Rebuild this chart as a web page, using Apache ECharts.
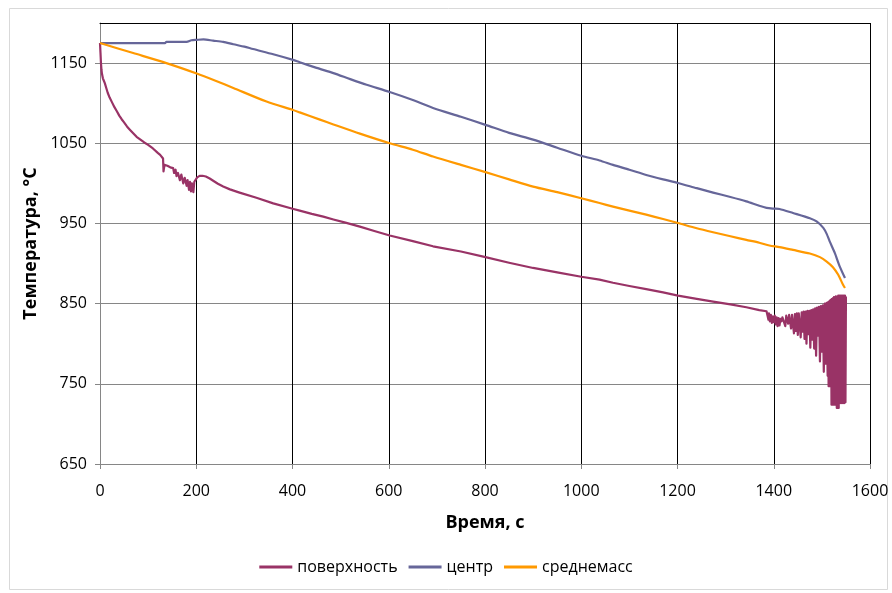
<!DOCTYPE html>
<html>
<head>
<meta charset="utf-8">
<script src="https://cdn.jsdelivr.net/npm/echarts@6/dist/echarts.min.js"></script>
<style>
  html, body { margin: 0; padding: 0; background: #fff; }
  #chart { width: 892px; height: 593px; }
</style>
</head>
<body>
<div id="chart"></div>
<script>
// Cooling curves of a slab: surface, centre and mass-average temperature, [time s, temperature °C]
const seriesNames = ['поверхность', 'центр', 'среднемасс'];

const surfaceTemp = [
  [0,1175],[1,1163],[2,1150],[3,1142],[4,1137],[6,1131],[8,1128],[10,1125],[13,1119],[16,1113],
  [20,1107],[25,1101],[30,1095],[35,1090],[40,1084.5],[45,1080],[50,1076],[56,1071],[62,1067],[69,1062.5],
  [76,1058],[84,1054.5],[92,1051],[100,1048],[110,1043.5],[120,1038],[125,1035.5],[131,1031],[132,1015],[134,1023],
  [140,1022],[146,1020],[152,1019],[154,1013],[157,1017],[159,1009],[162,1013],[166,1004],[169,1011],[173,1000],
  [176,1007],[180,997],[182,1004],[185,992],[187,1002],[189,990],[191,1000],[194,989],[196,1002],[199,1004],
  [202,1007.5],[207,1009.3],[213,1009.5],[220,1008.5],[228,1006],[236,1003],[245,999.5],[256,996],[270,992.5],[290,988.5],
  [325,982],[360,975],[402,968],[415,966],[440,962],[464,958.5],[485,955],[510,951],[540,946],[570,940.5],
  [602,935],[650,928],[692,921.5],[750,915],[801,908],[850,901],[900,894.5],[950,889],[1000,883.5],[1038,880],
  [1066,876],[1100,872],[1135,868],[1170,864],[1201,860],[1240,856],[1274,852.5],[1310,849],[1343,845.5],[1370,842],
  [1385,840.5],[1388,839],[1389,830],[1390,838],[1392,828],[1394,836],[1396,826],[1398,834],[1400,827],[1402,835],
  [1404,824],[1406,833],[1408,822],[1410,832],[1412,823],[1414,831],[1416,828],[1418,833],[1420,834],[1422,835],
  [1424,822],[1426,835],[1428,834],[1430,825],[1432,836],[1434,836],[1436,819],[1438,836],[1440,837],[1442,813],
  [1444,837],[1446,816],[1448,838],[1450,811],[1452,838],[1454,838],[1456,808],[1458,839],[1460,815],[1462,840],
  [1464,806],[1466,840],[1468,800],[1470,841],[1472,812],[1474,841],[1476,795],[1478,842],[1480,805],[1482,843],
  [1484,794],[1486,844],[1488,785],[1490,845],[1492,810],[1494,846],[1496,778],[1498,847],[1500,790],[1502,848],
  [1504,765],[1506,850],[1508,775],[1510,851],[1512,760],[1513,852],[1514,747],[1515,853],[1516,747],[1517,854],
  [1518,747],[1519,855],[1520,724],[1521,856],[1522,724],[1523,857],[1524,724],[1525,858],[1526,724],[1527,858],
  [1528,724],[1529,859],[1530,859],[1531,720],[1532,859],[1533,720],[1534,860],[1535,720],[1536,860],[1537,726],
  [1538,860],[1539,726],[1540,860],[1541,726],[1542,860],[1543,726],[1544,860],[1545,726],[1546,860],[1547,726],
  [1548,860],[1549,727],[1550,859]
];

const centreTemp = [
  [0,1175],[50,1175],[100,1175],[135,1175],[138,1176.5],[180,1176.5],[190,1178.5],[201,1179],[215,1179.5],[235,1178],
  [256,1176.5],[277,1173.5],[300,1170.5],[318,1167.5],[360,1161],[401,1154],[415,1151],[450,1144],[485,1137.5],[520,1130],
  [554,1123],[602,1114],[650,1104],[692,1094],[750,1083],[801,1073],[850,1063],[900,1054.5],[950,1044.5],[1000,1034.5],
  [1038,1028.5],[1066,1023],[1100,1017],[1135,1010.5],[1170,1005],[1201,1000.5],[1240,994],[1274,988.5],[1310,983],[1343,977.5],
  [1370,972],[1385,969.5],[1400,968.5],[1412,968],[1440,963],[1475,956.5],[1489,952.5],[1503,944.5],[1510,937],[1516,928],
  [1527,913],[1537,896.5],[1548,882]
];

const massAvgTemp = [
  [0,1175],[69,1162.5],[138,1150],[201,1137],[240,1128],[277,1119],[346,1102],[401,1091.5],[415,1088.5],[457,1079.5],
  [485,1073.5],[540,1062],[602,1050],[650,1042],[692,1033.5],[750,1023],[801,1014],[850,1005],[900,996],[950,989],
  [1000,981.5],[1038,975.5],[1066,971],[1100,966],[1135,961],[1170,955.5],[1201,950.5],[1240,944],[1274,939],[1310,934],
  [1343,929.5],[1370,926],[1391,922.5],[1412,920.5],[1440,917],[1475,912.5],[1496,908],[1510,902.5],[1523,895.5],[1534,886],
  [1544,873.5],[1548,869.5]
];

const yTickValues = [650, 750, 850, 950, 1050, 1150];
const xTicks = { min: 0, max: 1600, step: 200 };
const colors = ['#993366', '#666699', '#FF9900'];

const FONT = '"Open Sans", "Noto Sans", sans-serif';
const chart = echarts.init(document.getElementById('chart'), null, { renderer: 'canvas' });

function lineSeries(name, data, color, smooth) {
  return {
    name, type: 'line', data, color, smooth,
    showSymbol: false, symbol: 'none', animation: false,
    lineStyle: { width: 2.2, color, join: 'round' },
    z: 3
  };
}

const plain = v => String(v);

chart.setOption({
  animation: false,
  backgroundColor: '#fff',
  textStyle: { fontFamily: FONT },
  graphic: [{
    type: 'rect', left: 7, top: 6, silent: true,
    shape: { width: 878, height: 581 },
    style: { fill: 'none', stroke: '#d9d9d9', lineWidth: 1 }
  }],
  grid: { left: 100, right: 22, top: 23, bottom: 129, containLabel: false },
  legend: {
    data: seriesNames,
    bottom: 13, left: 'center',
    itemWidth: 33, itemHeight: 3, itemGap: 11,
    icon: 'rect',
    textStyle: { fontFamily: FONT, fontSize: 16, color: '#000' }
  },
  xAxis: [{
    type: 'value', min: xTicks.min, max: xTicks.max, interval: xTicks.step,
    name: 'Время, с', nameLocation: 'middle', nameGap: 50,
    nameTextStyle: { fontFamily: FONT, fontSize: 18, fontWeight: 'bold', color: '#000' },
    axisLine: { show: true, lineStyle: { color: '#868686', width: 1 } },
    axisTick: { show: true, inside: false, length: 5, lineStyle: { color: '#868686' } },
    axisLabel: { fontFamily: FONT, fontSize: 16, color: '#000', margin: 19, formatter: plain },
    splitLine: { show: true, showMinLine: false, lineStyle: { color: '#000', width: 1 } }
  }, {
    type: 'value', position: 'top', min: xTicks.min, max: xTicks.max, interval: xTicks.step,
    axisLine: { show: true, lineStyle: { color: '#000', width: 1 } },
    axisTick: { show: false }, axisLabel: { show: false }, splitLine: { show: false }
  }],
  yAxis: {
    type: 'value', min: 650, max: 1200,
    name: 'Температура, °С', nameLocation: 'middle', nameGap: 54, nameRotate: 90,
    nameTextStyle: { fontFamily: FONT, fontSize: 18, fontWeight: 'bold', color: '#000' },
    axisLine: { show: true, lineStyle: { color: '#868686', width: 1 } },
    axisTick: { show: true, inside: false, length: 5, lineStyle: { color: '#868686' }, customValues: yTickValues },
    axisLabel: { fontFamily: FONT, fontSize: 16, color: '#000', margin: 13, customValues: yTickValues, formatter: plain },
    splitLine: { show: true, showMinLine: false, lineStyle: { color: '#868686', width: 1 } }
  },
  series: [
    lineSeries(seriesNames[0], surfaceTemp, colors[0], false),
    lineSeries(seriesNames[1], centreTemp, colors[1], 0.25),
    lineSeries(seriesNames[2], massAvgTemp, colors[2], 0.25)
  ]
});
</script>
</body>
</html>
